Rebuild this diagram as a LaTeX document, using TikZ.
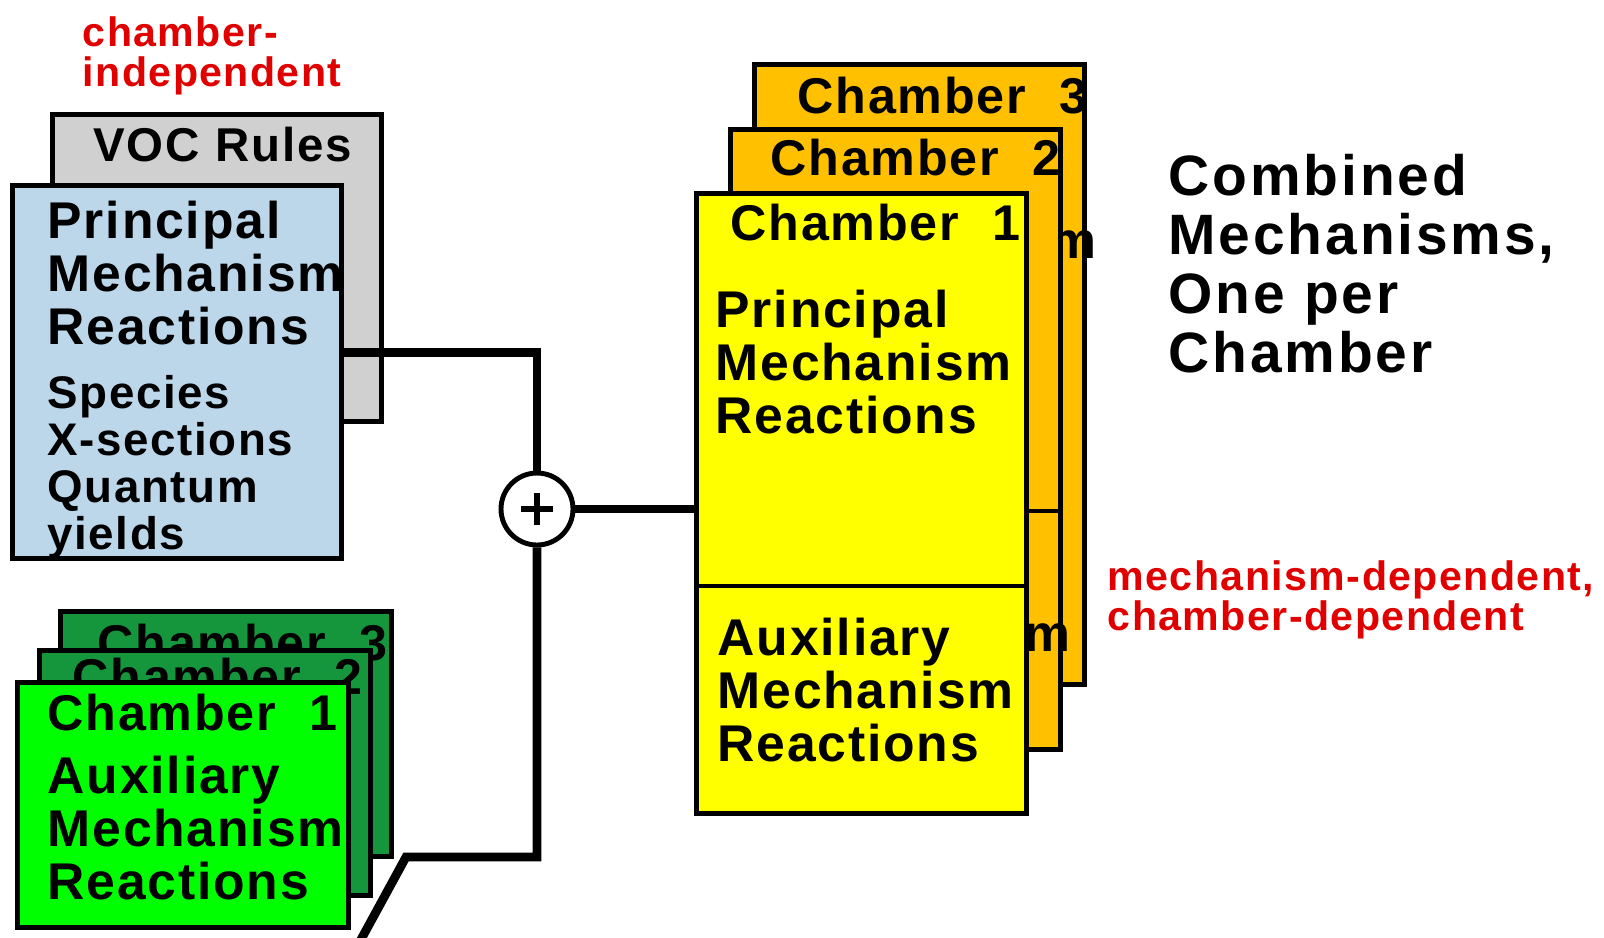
\documentclass[tikz,border=0pt]{standalone}
\usepackage{fontspec}
\setmainfont{Liberation Sans}[LetterSpace=3.5]
\usepackage{xcolor}
\usepackage{tikz}
\usetikzlibrary{positioning, calc}
\definecolor{cGray}{HTML}{D0D0D0}
\definecolor{cBlue}{HTML}{BDD7EA}
\definecolor{cYellow}{HTML}{FFFF00}
\definecolor{cOrange}{HTML}{FFC000}
\definecolor{cGreenDk}{HTML}{16963C}
\definecolor{cGreen}{HTML}{00FF00}
\definecolor{cRed}{HTML}{E00000}
\tikzset{
  box/.style={draw=black, line width=1.3pt, inner sep=0pt, anchor=north west},
  chamberbox/.style={box, fill=cOrange, minimum width=3.3cm, minimum height=6.2cm},
  greenbox/.style={box, fill=cGreenDk, minimum width=3.31cm, minimum height=2.45cm},
  txt/.style={inner sep=0pt, anchor=base west, align=left, text width=3.4cm,
    font=\bfseries\fontsize{14.7}{15.2}\selectfont},
  smalltxt/.style={txt, font=\bfseries\fontsize{13}{13.4}\selectfont},
  titletxt/.style={txt, font=\bfseries\fontsize{14.3}{14.3}\selectfont},
  notetxt/.style={txt, text=cRed, text width=5cm, font=\bfseries\fontsize{11.7}{11.6}\selectfont},
  wire/.style={line width=2.5pt},
  divider/.style={line width=1.3pt},
}

\begin{document}
\begin{tikzpicture}
  \useasboundingbox (0,0) rectangle (16.04,-9.37);

  % chamber-independent part
  \node[notetxt] (indep) at (0.82,-0.46) {chamber-\\independent};
  \node[box, fill=cGray, minimum width=3.29cm, minimum height=3.07cm] (voc) at (0.50,-1.12) {};
  \node[txt, font=\bfseries\fontsize{13.5}{13.5}\selectfont] (voct) at ([shift={(0.43,-0.49)}]voc.north west) {VOC~Rules};
  \node[box, fill=cBlue, minimum width=3.29cm, minimum height=3.73cm] (blue) at (0.10,-1.83) {};
  \node[txt] (bluep) at ([shift={(0.37,-0.55)}]blue.north west) {Principal\\Mechanism\\Reactions};
  \node[smalltxt] (blues) at ([shift={(0.37,-2.25)}]blue.north west) {Species\\X-sections\\Quantum\\yields};

  % auxiliary mechanisms, one per chamber
  \node[greenbox] (g3) at (0.58,-6.09) {};
  \node[titletxt] (g3t) at ([shift={(0.39,-0.51)}]g3.north west) {Chamber\ \ 3};
  \node[greenbox] (g2) at (0.37,-6.48) {};
  \node[titletxt] (g2t) at ([shift={(0.35,-0.46)}]g2.north west) {Chamber\ \ 2};
  \node[greenbox, fill=cGreen] (g1) at (0.15,-6.80) {};
  \node[titletxt] (g1t) at ([shift={(0.32,-0.50)}]g1.north west) {Chamber\ \ 1};
  \node[txt] (g1a) at ([shift={(0.32,-1.13)}]g1.north west) {Auxiliary\\Mechanism\\Reactions};

  % combined mechanisms
  \node[chamberbox] (c3) at (7.52,-0.62) {};
  \node[titletxt] (c3t) at ([shift={(0.45,-0.51)}]c3.north west) {Chamber\ \ 3};
  \node[txt] (c3m) at ([shift={(0.48,-1.96)}]c3.north west) {Mechanism};
  \node[chamberbox] (c2) at (7.28,-1.27) {};
  \node[titletxt] (c2t) at ([shift={(0.42,-0.48)}]c2.north west) {Chamber\ \ 2};
  \draw[divider] ([yshift=-3.84cm]c2.north west) -- ([yshift=-3.84cm]c2.north east);
  \node[txt] (c2m) at ([shift={(0.46,-5.24)}]c2.north west) {Mechanism};
  \node[chamberbox, fill=cYellow] (c1) at (6.94,-1.91) {};
  \node[titletxt] (c1t) at ([shift={(0.36,-0.49)}]c1.north west) {Chamber\ \ 1};
  \node[txt] (c1p) at ([shift={(0.21,-1.36)}]c1.north west) {Principal\\Mechanism\\Reactions};
  \draw[divider] ([yshift=-3.95cm]c1.north west) -- ([yshift=-3.95cm]c1.north east);
  \node[txt] (c1a) at ([shift={(0.23,-4.64)}]c1.north west) {Auxiliary\\Mechanism\\Reactions};

  \node[txt, text width=4.6cm, font=\bfseries\fontsize{16.2}{16.8}\selectfont\addfontfeatures{LetterSpace=5}]
    (comb) at (11.68,-1.95) {Combined\\Mechanisms,\\One per\\Chamber};
  \node[notetxt] (dep) at (11.07,-5.90) {mechanism-dependent,\\chamber-dependent};

  % summing junction
  \node[circle, draw, line width=1.4pt, fill=white, minimum size=0.72cm, inner sep=0pt] (sum) at (5.37,-5.09) {};
  \draw[line width=1.8pt] ([xshift=-0.16cm]sum.center) -- ([xshift=0.16cm]sum.center);
  \draw[line width=1.8pt] ([yshift=-0.16cm]sum.center) -- ([yshift=0.16cm]sum.center);
  \coordinate (bend) at (4.06,-8.57);
  \coordinate (tail) at (3.58,-9.45);
  \draw[wire] ([yshift=0.195cm]blue.east) -| (sum.north);
  \draw[wire] (sum.south) |- (bend) -- (tail);
  \draw[wire] (sum.east) -- (sum.east -| c1.west);
\end{tikzpicture}
\end{document}
